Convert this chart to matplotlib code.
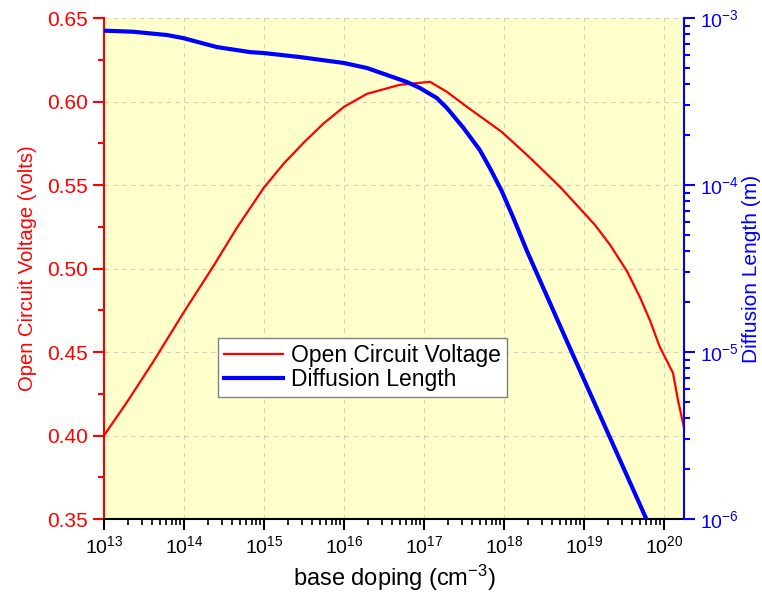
import matplotlib
matplotlib.use('Agg')
import matplotlib.pyplot as plt
from matplotlib.ticker import MultipleLocator, LogLocator, FormatStrFormatter, NullFormatter

plt.rcParams['font.family'] = ['Liberation Sans', 'DejaVu Sans']
plt.rcParams['mathtext.default'] = 'regular'

# open circuit voltage vs base doping (cm^-3)
voc_doping = [1e13, 2e13, 4.1e13, 1e14, 2.3e14, 4.6e14, 1e15, 1.78e15, 3.16e15,
              5.6e15, 1e16, 1.94e16, 5e16, 1.19e17, 1.94e17, 3.45e17, 9.4e17, 2.1e18,
              5e18, 8.9e18, 1.38e19, 2.1e19, 3.45e19, 5e19, 6.76e19, 8.9e19,
              1.3e20, 1.5e20, 1.78e20]
voc = [0.400, 0.421, 0.444, 0.474, 0.501, 0.5245, 0.5485, 0.563, 0.5755,
       0.587, 0.5968, 0.6046, 0.610, 0.6118, 0.6058, 0.5968, 0.5818, 0.5665,
       0.549, 0.536, 0.526, 0.5145, 0.4985, 0.483, 0.4685, 0.453,
       0.4375, 0.4213, 0.405]

# diffusion length (m) vs base doping
dl_doping = [1e13, 2.3e13, 6.13e13, 9.7e13, 2.58e14, 6.7e14, 1e15, 2.8e15, 1e16,
             1.94e16, 3.45e16, 6.13e16, 8.9e16, 1.45e17, 1.94e17, 3.07e17, 5e17,
             6.7e17, 9.4e17, 1.3e18, 1.94e18, 6.13e18, 2.1e19, 1e20]
dl = [8.40e-4, 8.28e-4, 7.91e-4, 7.59e-4, 6.70e-4, 6.25e-4, 6.17e-4, 5.84e-4, 5.38e-4,
      5.02e-4, 4.56e-4, 4.14e-4, 3.81e-4, 3.32e-4, 2.89e-4, 2.22e-4, 1.62e-4,
      1.26e-4, 9.2e-5, 6.43e-5, 4.03e-5, 1.16e-5, 3.10e-6, 5.83e-7]

x_ticks = [1e13, 1e14, 1e15, 1e16, 1e17, 1e18, 1e19, 1e20]
dl_ticks = [1e-6, 1e-5, 1e-4, 1e-3]

fig = plt.figure(figsize=(7.62, 5.95), dpi=100)
ax = fig.add_axes([0.1365, 0.1277, 0.761, 0.842])
ax.set_facecolor('#ffffcc')

l1, = ax.plot(voc_doping, voc, color='red', lw=1.6, label='Open Circuit Voltage')
ax.set_xscale('log')
ax.set_xlim(1e13, 1.78e20)
ax.set_ylim(0.35, 0.65)
ax.yaxis.set_major_locator(MultipleLocator(0.05))
ax.yaxis.set_minor_locator(MultipleLocator(0.025))
ax.yaxis.set_major_formatter(FormatStrFormatter('%.2f'))
ax.set_xticks(x_ticks)
ax.xaxis.set_minor_locator(LogLocator(base=10, subs=range(2, 10), numticks=20))
ax.xaxis.set_minor_formatter(NullFormatter())
ax.grid(True, which='major', color='#d0d0c0', ls=(0, (4, 4)), lw=0.8)

ax.spines['top'].set_visible(False)
ax.spines['right'].set_visible(False)
ax.spines['left'].set_color('red')
ax.spines['left'].set_linewidth(1.5)
ax.spines['bottom'].set_linewidth(1.5)
ax.tick_params(axis='y', which='both', colors='red', width=1.5, labelsize=15)
ax.tick_params(axis='y', which='major', length=8)
ax.tick_params(axis='y', which='minor', length=4)
ax.tick_params(axis='x', which='major', length=8, width=1.5, labelsize=14)
ax.tick_params(axis='x', which='minor', length=4, width=1.2)
ax.set_xlabel('base doping (cm$^{-3}$)', fontsize=17, labelpad=4)
ax.set_ylabel('Open Circuit Voltage (volts)', color='red', fontsize=14.5, labelpad=7)

ax2 = ax.twinx()
l2, = ax2.plot(dl_doping, dl, color='blue', lw=3, label='Diffusion Length')
ax2.set_yscale('log')
ax2.set_ylim(1e-6, 1e-3)
ax2.set_xlim(1e13, 1.78e20)
ax2.set_yticks(dl_ticks)
ax2.yaxis.set_minor_locator(LogLocator(base=10, subs=range(2, 10), numticks=20))
ax2.yaxis.set_minor_formatter(NullFormatter())
for s in ['top', 'left', 'bottom']:
    ax2.spines[s].set_visible(False)
ax2.spines['right'].set_color('blue')
ax2.spines['right'].set_linewidth(1.5)
ax2.tick_params(axis='y', which='both', colors='blue', width=1.5, labelsize=14)
ax2.tick_params(axis='y', which='major', length=8)
ax2.tick_params(axis='y', which='minor', length=4)
ax2.set_ylabel('Diffusion Length (m)', color='blue', fontsize=15, labelpad=2)

leg = ax2.legend(handles=[l1, l2], loc='upper left', bbox_to_anchor=(0.1966, 0.361),
                 borderaxespad=0, fontsize=16.5, fancybox=False, framealpha=1,
                 edgecolor='#808080', handlelength=2.6, borderpad=0.25,
                 labelspacing=0.05, handletextpad=0.35)
leg.get_frame().set_linewidth(1)

fig.savefig('out.png', dpi=100)
